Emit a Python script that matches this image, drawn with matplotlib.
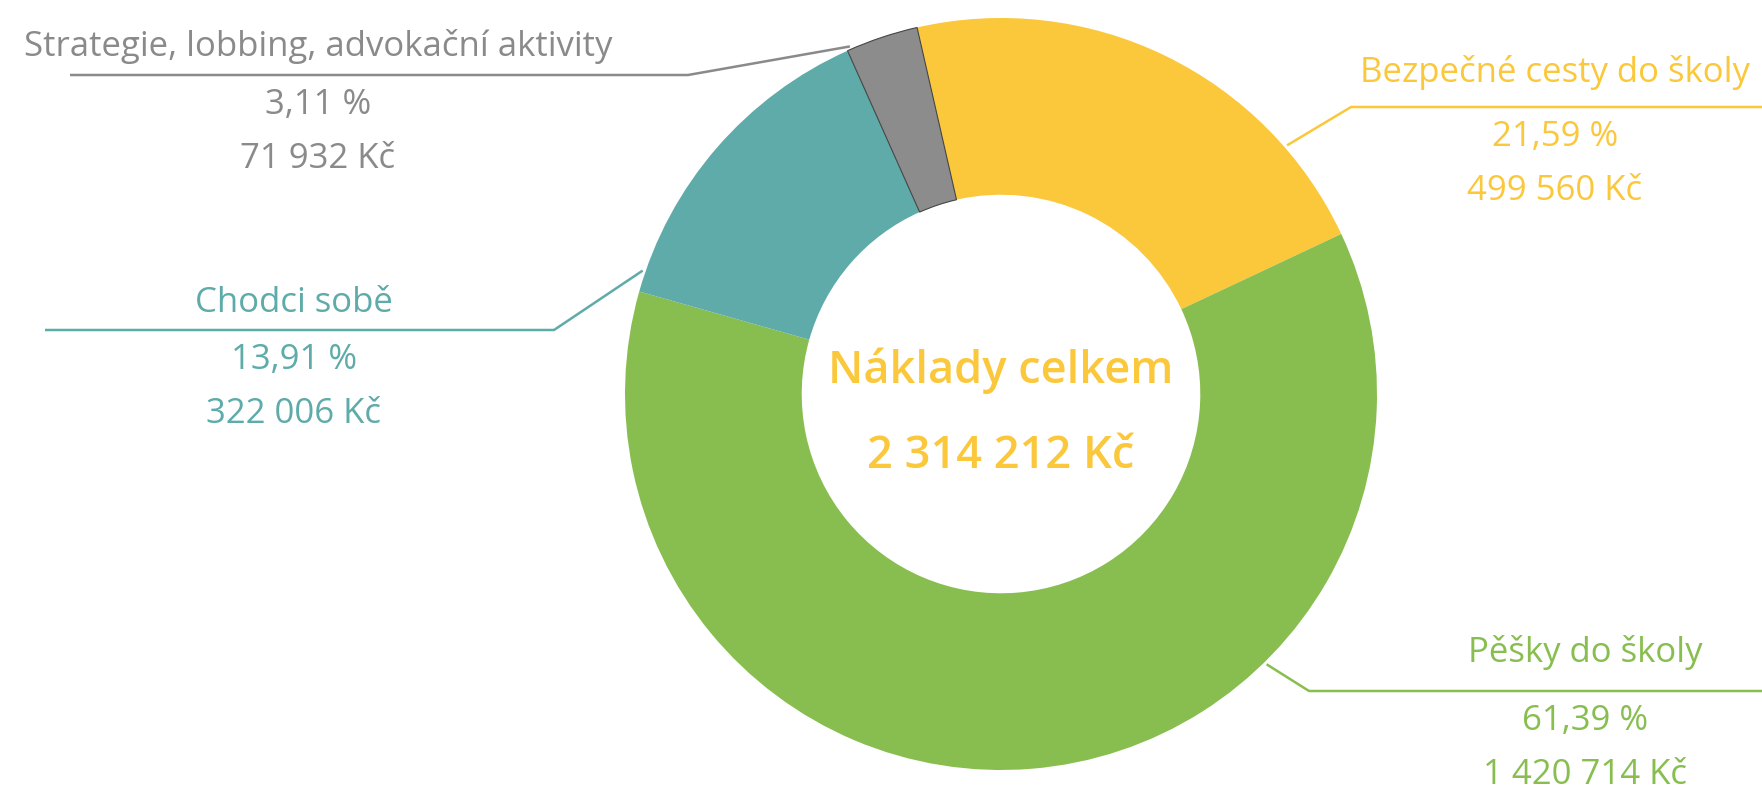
import matplotlib.pyplot as plt
import numpy as np

W, H = 1762, 798

labels = ["Bezpečné cesty do školy", "Pěšky do školy", "Chodci sobě",
          "Strategie, lobbing, advokační aktivity"]
amounts = [499560, 1420714, 322006, 71932]
percents = ["21,59 %", "61,39 %", "13,91 %", "3,11 %"]
amount_texts = ["499 560 Kč", "1 420 714 Kč", "322 006 Kč", "71 932 Kč"]
colors = ["#fbc73b", "#88be4f", "#5eaba9", "#8c8c8c"]
total_title = "Náklady celkem"
total_text = "2 314 212 Kč"

plt.rcParams['font.family'] = ['Open Sans', 'DejaVu Sans']

fig = plt.figure(figsize=(W / 100, H / 100), dpi=100)
ax = fig.add_axes([0, 0, 1, 1])

cx, cy, R = 1001, H - 394, 376
wedges, _ = ax.pie(amounts, colors=colors, startangle=102.9, counterclock=False,
                   radius=R, center=(cx, cy),
                   wedgeprops=dict(width=R * 0.47, linewidth=0))
wedges[3].set_edgecolor("#444444")
wedges[3].set_linewidth(0.8)

ax.set_xlim(0, W)
ax.set_ylim(0, H)
ax.set_aspect('equal')
ax.axis('off')

# leader layout: anchor angle on ring, elbow point, end x, text centre x, title y
layout = [
    (41, (1351, 107), W, 1555, 73),
    (-45.5, (1309, 691), W, 1585, 652),
    (161, (554, 330), 45, 294, 303),
    (113.5, (688, 75), 70, 318, 47),
]
for i, (ang, (ex, ey), endx, tx, ty) in enumerate(layout):
    c = colors[i] if i != 3 else "#8a8a8a"
    a = np.deg2rad(ang)
    sx, sy = cx + (R + 3) * np.cos(a), cy + (R + 3) * np.sin(a)
    ax.plot([sx, ex, endx], [sy, H - ey, H - ey], color=c, lw=1.8,
            solid_capstyle='butt', clip_on=False)
    ax.text(tx, H - ty, labels[i], color=c, fontsize=25, ha='center', va='center')
    ax.text(tx, H - ey - 30, percents[i], color=c, fontsize=25, ha='center', va='center')
    ax.text(tx, H - ey - 84, amount_texts[i], color=c, fontsize=25, ha='center', va='center')

ax.text(cx, H - 371, total_title, color=colors[0], fontsize=32.5, fontweight='semibold',
        ha='center', va='center')
ax.text(cx, H - 457, total_text, color=colors[0], fontsize=32.5, fontweight='semibold',
        ha='center', va='center')

fig.savefig("out.png", dpi=100, facecolor='white')
